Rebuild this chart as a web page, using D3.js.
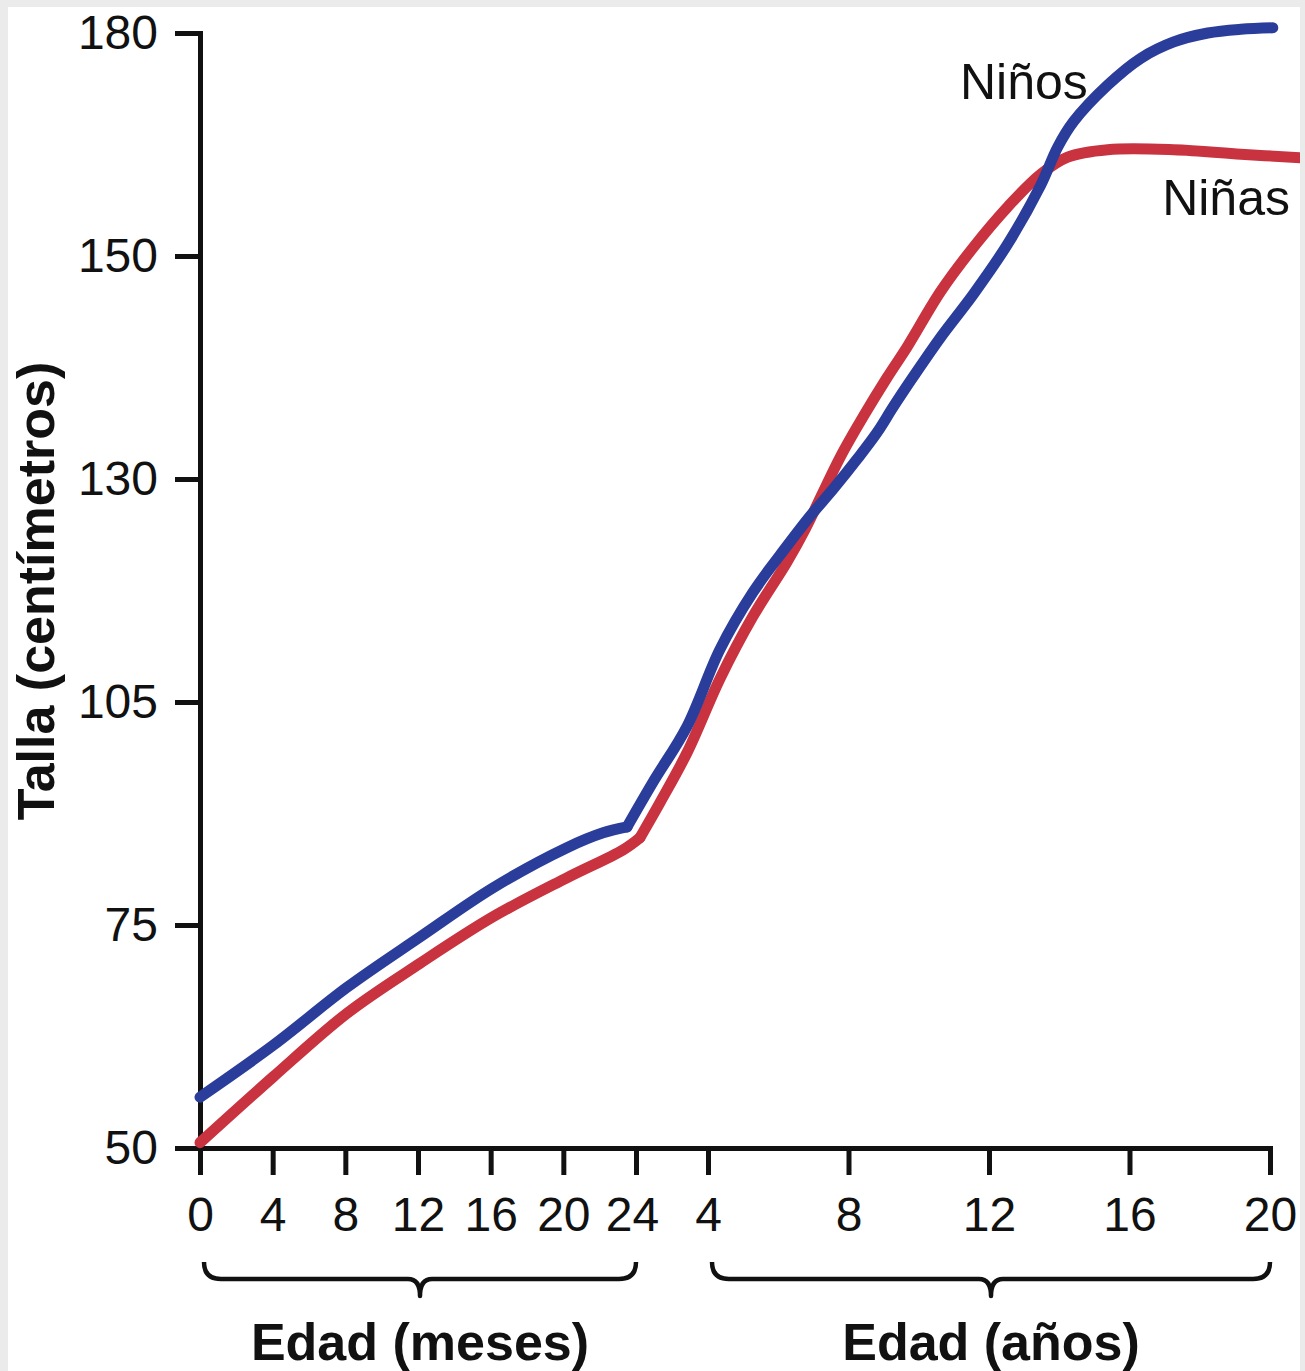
<!DOCTYPE html>
<html>
<head>
<meta charset="utf-8">
<script src="https://cdn.jsdelivr.net/npm/d3@7"></script>
<style>
  html, body { margin: 0; padding: 0; background: #ebebeb; }
  svg { display: block; }
  text { font-family: "Liberation Sans", Arial, Helvetica, sans-serif; fill: #111; }
</style>
</head>
<body>
<svg id="chart" width="1305" height="1371"></svg>
<script>
// ---------- data ----------
const yTicks = [50, 75, 105, 130, 150, 180];
const xTickAges = [0, 4/12, 8/12, 12/12, 16/12, 20/12, 24/12, 4, 8, 12, 16, 20];
const xTickLabels = ["0", "4", "8", "12", "16", "20", "24", "4", "8", "12", "16", "20"];
const groupLabels = ["Edad (meses)", "Edad (años)"];
const groupRanges = [[0, 2], [4, 20]];
const yTitle = "Talla (centímetros)";
const seriesNames = ["Niños", "Niñas"];

// ages in years (index 7 = end of infancy segment, where the curve bends)
const boysAges = [0, 0.335, 0.674, 1.009, 1.344, 1.683, 1.849, 1.959, 2.47, 3.42,
  4.34, 5.28, 6.25, 6.91, 7.57, 8.25, 8.82, 9.28, 9.85, 10.62, 11.56, 12.53,
  13.47, 13.95, 14.41, 15.38, 16.32, 17.26, 18.23, 19.17, 20.08];
const boysHeights = [55.7, 61.5, 68.0, 73.65, 80.0, 85.4, 87.4, 88.2, 94.2, 101.75,
  110.9, 117.3, 122.5, 125.85, 128.9, 131.8, 134.2, 136.5, 139.2, 142.7, 146.6, 151.6,
  159.5, 164.6, 168.1, 173.0, 176.6, 178.8, 180.0, 180.5, 180.7];

const girlsAges = [0, 0.335, 0.674, 1.009, 1.344, 1.683, 1.94, 2.11, 2.67, 3.42,
  4.34, 5.28, 6.25, 6.77, 7.77, 8.42, 9.1, 9.68, 10.62, 11.56, 12.53,
  13.47, 14.24, 15.38, 17.26, 19.17, 20.88];
const girlsHeights = [50.6, 57.96, 65.1, 70.7, 76.1, 81.35, 85.1, 86.75, 91.5, 98.2,
  107.6, 114.6, 120.7, 124.4, 132.0, 135.6, 139.1, 141.9, 146.8, 151.2, 156.6,
  161.0, 163.3, 164.3, 164.3, 163.7, 163.2];
const bendIndex = 7;

(function () {
// ---------- layout ----------
const svg = d3.select("#chart");
const pLeft = 200, pRight = 1270, pTop = 33, pBottom = 1148;
const ySteps = yTicks.length - 1;

const y = d3.scaleLinear()
  .domain(yTicks)
  .range(yTicks.map((d, i) => pBottom - i * (pBottom - pTop) / ySteps));

const x = d3.scaleLinear()
  .domain([0, 2, 4, 20])
  .range([pLeft, 636, 708, pRight]);

// background
svg.append("rect").attr("x", 0).attr("y", 0).attr("width", 1305).attr("height", 1371).attr("fill", "#ebebeb");
svg.append("rect").attr("x", 8).attr("y", 7).attr("width", 1292).attr("height", 1364).attr("fill", "#ffffff");

svg.append("clipPath").attr("id", "clip")
  .append("rect").attr("x", 8).attr("y", 7).attr("width", 1292).attr("height", 1364);

// ---------- axes ----------
const yAxis = d3.axisLeft(y)
  .tickValues(yTicks)
  .tickFormat(d3.format("d"))
  .tickSize(25)
  .tickSizeOuter(0)
  .tickPadding(17);

const xAxis = d3.axisBottom(x)
  .tickValues(xTickAges)
  .tickFormat((d, i) => xTickLabels[i])
  .tickSize(27)
  .tickSizeOuter(0)
  .tickPadding(22);

const gy = svg.append("g").attr("transform", `translate(${pLeft},0)`).call(yAxis);
const gx = svg.append("g").attr("transform", `translate(0,${pBottom})`).call(xAxis);

[gy, gx].forEach(g => {
  g.selectAll("path.domain").attr("stroke", "#111").attr("stroke-width", 5).attr("stroke-linecap", "square");
  g.selectAll(".tick line").attr("stroke", "#111").attr("stroke-width", 5);
  g.selectAll(".tick text")
    .attr("fill", "#111")
    .style("font-family", "'Liberation Sans', Arial, Helvetica, sans-serif")
    .style("font-size", "48px");
});
gx.selectAll(".tick").filter((d, i) => i === 6).select("text").attr("dx", "-4");

// ---------- lines ----------
const line = d3.line()
  .x(d => x(d[0]))
  .y(d => y(d[1]))
  .curve(d3.curveCatmullRom.alpha(0.5));

const boys = boysAges.map((a, i) => [a, boysHeights[i]]);
const girls = girlsAges.map((a, i) => [a, girlsHeights[i]]);

const lines = svg.append("g").attr("clip-path", "url(#clip)");
function drawSeries(data, color) {
  const segs = [data.slice(0, bendIndex + 1), data.slice(bendIndex)];
  segs.forEach(seg => {
    lines.append("path").datum(seg)
      .attr("d", line).attr("fill", "none")
      .attr("stroke", color).attr("stroke-width", 11)
      .attr("stroke-linejoin", "round").attr("stroke-linecap", "round");
  });
}
drawSeries(girls, "#c9323f");
drawSeries(boys, "#2b3d9b");

// series labels
svg.append("text").attr("x", 960).attr("y", 99)
  .attr("font-size", 50).text(seriesNames[0]);
svg.append("text").attr("x", 1290).attr("y", 215).attr("text-anchor", "end")
  .attr("font-size", 50).text(seriesNames[1]);

// ---------- braces & group labels ----------
const braceTop = 1262, braceMid = 1279, braceTip = 1296, r = 17;
groupRanges.forEach((g, i) => {
  const x0 = x(g[0]) + 4, x1 = x(g[1]), xc = (x0 + x1) / 2;
  const p = d3.path();
  p.moveTo(x0, braceTop);
  p.quadraticCurveTo(x0, braceMid, x0 + r, braceMid);
  p.lineTo(xc - 12, braceMid);
  p.quadraticCurveTo(xc, braceMid, xc, braceTip);
  p.quadraticCurveTo(xc, braceMid, xc + 12, braceMid);
  p.lineTo(x1 - r, braceMid);
  p.quadraticCurveTo(x1, braceMid, x1, braceTop);
  svg.append("path").attr("d", p.toString()).attr("fill", "none")
    .attr("stroke", "#111").attr("stroke-width", 4.5).attr("stroke-linejoin", "round");
  svg.append("text").attr("x", xc).attr("y", 1360).attr("text-anchor", "middle")
    .attr("font-size", 52).attr("font-weight", "bold").text(groupLabels[i]);
});

// y title
svg.append("text")
  .attr("transform", `translate(54, 591) rotate(-90)`)
  .attr("text-anchor", "middle")
  .attr("font-size", 52).attr("font-weight", "bold")
  .text(yTitle);
})();
</script>
</body>
</html>
